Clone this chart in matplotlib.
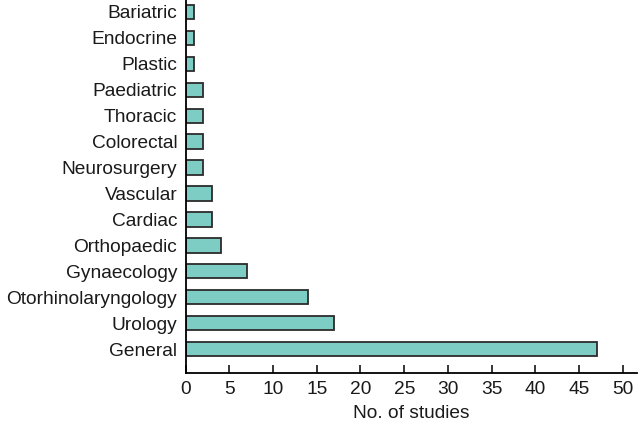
import matplotlib
matplotlib.use("Agg")
import matplotlib.pyplot as plt

categories = ["General", "Urology", "Otorhinolaryngology", "Gynaecology", "Orthopaedic",
              "Cardiac", "Vascular", "Neurosurgery", "Colorectal", "Thoracic",
              "Paediatric", "Plastic", "Endocrine", "Bariatric"]
values = [47, 17, 14, 7, 4, 3, 3, 2, 2, 2, 2, 1, 1, 1]
xticks = [0, 5, 10, 15, 20, 25, 30, 35, 40, 45, 50]

plt.rcParams['font.family'] = ['Liberation Sans', 'DejaVu Sans']

fig = plt.figure(figsize=(6.4, 4.3), dpi=100)
ax = fig.add_axes([0.29, 0.1326, 0.705, 0.8674])
ypos = list(range(len(categories)))
ax.barh(ypos, values, height=0.55, color="#7ecdc4", edgecolor="#2b2b2b", linewidth=1.3)
ax.set_yticks(ypos)
ax.set_yticklabels(categories, fontsize=13.8, color="#1a1a1a")
ax.set_xticks(xticks)
ax.set_xticklabels([str(t) for t in xticks], fontsize=13.8, color="#1a1a1a")
ax.set_xlim(0, 51.6)
ax.set_ylim(-0.92, 13.46)
ax.spines['top'].set_visible(False)
ax.spines['right'].set_visible(False)
ax.spines['left'].set_linewidth(1.3)
ax.spines['bottom'].set_linewidth(1.3)
ax.tick_params(axis='y', length=0, pad=6)
ax.tick_params(axis='x', direction='in', length=6, width=1.1, pad=6)
ax.set_xlabel("No. of studies", fontsize=13.8, color="#1a1a1a", labelpad=5)
fig.savefig("out.png", dpi=100)
